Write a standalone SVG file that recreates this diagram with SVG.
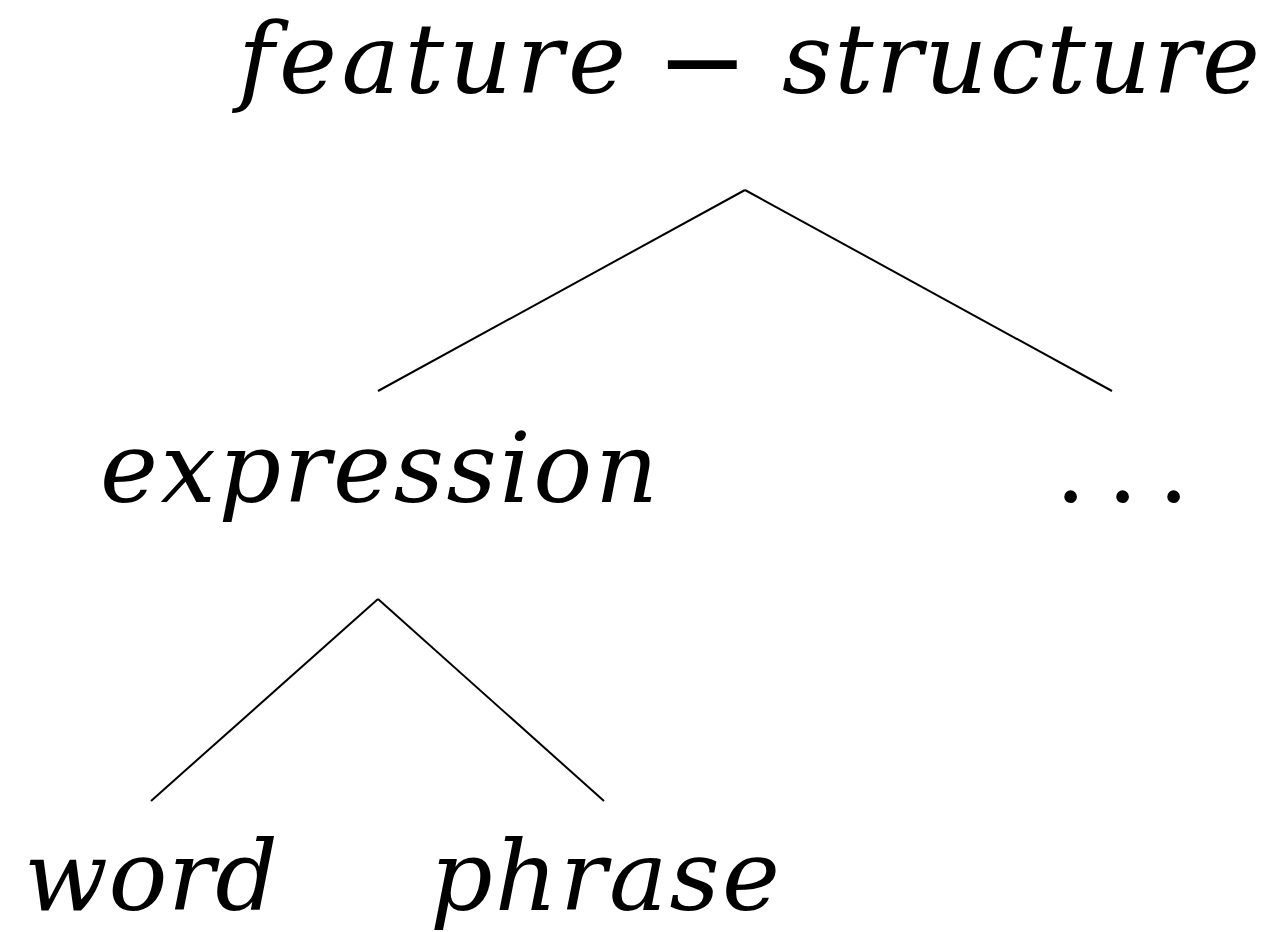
<svg xmlns="http://www.w3.org/2000/svg" width="1272" height="932" viewBox="0 0 1272 932">
<style>
text{fill:#000;font-size:98px;font-family:"DejaVu Serif","Noto Serif","Liberation Serif",serif}
.t{font-style:italic}
.e{stroke:#000;stroke-width:2;fill:none}
</style>
<rect width="1272" height="932" fill="#fff"/>
<g id="connectors">
<line class="e" x1="745" y1="190" x2="378" y2="391"/>
<line class="e" x1="745" y1="190" x2="1112" y2="391"/>
<line class="e" x1="378" y1="599" x2="151" y2="801"/>
<line class="e" x1="378" y1="599" x2="604" y2="801"/>
</g>
<g id="feature-structure">
<text class="t" x="238" y="93" textLength="388" lengthAdjust="spacing">feature</text>
<text x="656" y="99" style="font-size:110px">−</text>
<text class="t" x="782" y="93" textLength="478" lengthAdjust="spacing">structure</text>
</g>
<g id="expression">
<text class="t" x="100" y="502" textLength="558" lengthAdjust="spacing">expression</text>
</g>
<g id="ellipsis">
<text x="1055 1107 1158" y="502">...</text>
</g>
<g id="word">
<text class="t" x="24" y="910" textLength="254" lengthAdjust="spacing">word</text>
</g>
<g id="phrase">
<text class="t" x="430" y="910" textLength="350" lengthAdjust="spacing">phrase</text>
</g>
</svg>
